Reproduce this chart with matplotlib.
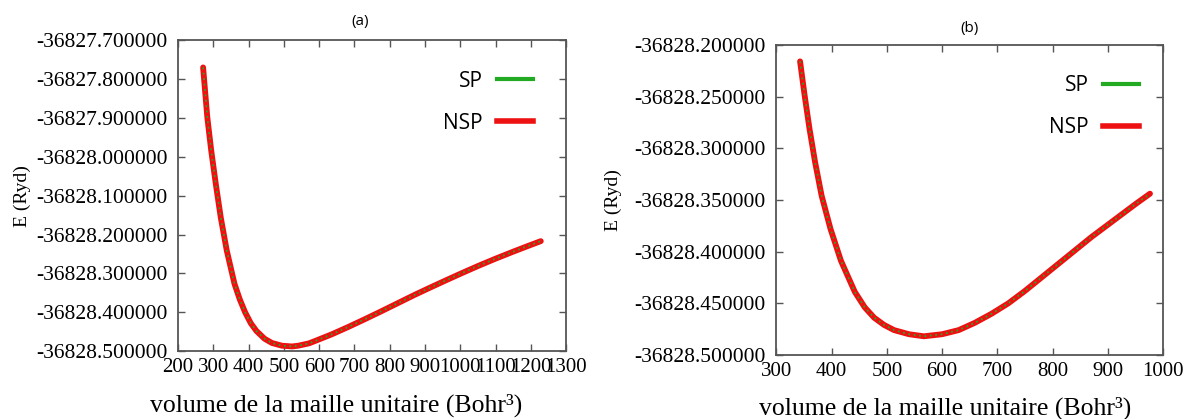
import matplotlib
matplotlib.use("Agg")
import matplotlib.pyplot as plt
from matplotlib.lines import Line2D

# energie totale en fonction du volume (SP et NSP sont superposees)
volume_a = [271, 277, 283, 294, 307, 321, 338, 360, 375, 390, 406, 422, 445, 466,
            494, 523, 541, 571, 588, 635, 682, 729, 777, 824, 871, 918, 966, 1000,
            1050, 1100, 1150, 1190, 1228]
energie_a = [-36827.770, -36827.835, -36827.899, -36827.984, -36828.070, -36828.156,
             -36828.241, -36828.327, -36828.367, -36828.400, -36828.428, -36828.448,
             -36828.468, -36828.479, -36828.486, -36828.488, -36828.486, -36828.480,
             -36828.474, -36828.457, -36828.438, -36828.418, -36828.397, -36828.376,
             -36828.355, -36828.335, -36828.315, -36828.301, -36828.281, -36828.262,
             -36828.244, -36828.230, -36828.217]

volume_b = [343, 351, 360, 370, 382, 398, 417, 442, 460, 477, 495, 513, 540, 567,
            600, 630, 659, 690, 720, 750, 780, 810, 840, 870, 900, 950, 976]
energie_b = [-36828.216, -36828.248, -36828.281, -36828.313, -36828.346, -36828.378,
             -36828.409, -36828.439, -36828.454, -36828.464, -36828.471, -36828.476,
             -36828.480, -36828.482, -36828.480, -36828.476, -36828.469, -36828.460,
             -36828.450, -36828.438, -36828.425, -36828.412, -36828.399, -36828.386,
             -36828.374, -36828.354, -36828.344]

xticks_a = [200, 300, 400, 500, 600, 700, 800, 900, 1000, 1100, 1200, 1300]
yticks_a = [-36827.7, -36827.8, -36827.9, -36828.0, -36828.1, -36828.2, -36828.3,
            -36828.4, -36828.5]
xticks_b = [300, 400, 500, 600, 700, 800, 900, 1000]
yticks_b = [-36828.20, -36828.25, -36828.30, -36828.35, -36828.40, -36828.45, -36828.50]

etiquettes = ["SP", "NSP"]
couleurs = ["#22aa22", "#ee1111"]

SERIF = "Liberation Serif"
SANS = "Open Sans"

plt.rcParams["axes.unicode_minus"] = False


def rysuj_panel(ax, volume, energie, xticks, yticks, titre, titre_x, titre_pad, xlabel_x, legende_x):
    # NSP en rouge epais, SP en pointille vert par-dessus
    ax.plot(volume, energie, color=couleurs[1], linewidth=4.2, solid_capstyle="round",
            solid_joinstyle="round", zorder=2)
    ax.plot(volume, energie, color=couleurs[0], linewidth=1.3, linestyle=(0, (1, 2)), zorder=3)

    ax.set_xlim(xticks[0], xticks[-1])
    ax.set_ylim(yticks[-1], yticks[0])
    ax.set_xticks(xticks)
    ax.set_xticklabels([str(v) for v in xticks], fontfamily=SERIF, fontsize=15)
    ax.set_yticks(yticks)
    ax.set_yticklabels(["%.6f" % v for v in yticks], fontfamily=SERIF, fontsize=15.5)
    ax.tick_params(direction="in", top=True, right=True, length=5, width=1,
                   color="#555555")
    ax.tick_params(axis="x", pad=5)
    ax.tick_params(axis="y", pad=7.5)
    for s in ax.spines.values():
        s.set_color("#555555")
        s.set_linewidth(1.3)

    ax.set_title(titre, fontfamily=SANS, fontsize=11, pad=titre_pad, x=titre_x)
    ax.set_xlabel("volume de la maille unitaire (Bohr³)", fontfamily=SERIF, fontsize=18.5, labelpad=15)
    ax.xaxis.set_label_coords(xlabel_x, -0.135)
    ax.set_ylabel("E (Ryd)", fontfamily=SERIF, fontsize=14)

    poignees = [Line2D([0], [0], color=couleurs[0], linewidth=3),
                Line2D([0], [0], color=couleurs[1], linewidth=4)]
    ax.legend(poignees, etiquettes, loc="upper right", bbox_to_anchor=(legende_x, 0.962),
              markerfirst=False, frameon=False, handlelength=1.7, labelspacing=1.0,
              handletextpad=0.7, prop={"family": SANS, "size": 15})


def main():
    fig = plt.figure(figsize=(11.87, 4.19), dpi=100)
    ax_a = fig.add_axes([0.150, 0.162, 0.327, 0.742])
    ax_b = fig.add_axes([0.654, 0.153, 0.326, 0.740])

    rysuj_panel(ax_a, volume_a, energie_a, xticks_a, yticks_a, "(a)", 0.469, 11, 0.407, 0.962)
    rysuj_panel(ax_b, volume_b, energie_b, xticks_b, yticks_b, "(b)", 0.5, 9, 0.437, 0.985)

    ax_a.yaxis.set_label_coords(-0.379, 0.5)
    ax_b.yaxis.set_label_coords(-0.40, 0.5)

    plt.savefig("out.png", dpi=100)


if __name__ == "__main__":
    main()
